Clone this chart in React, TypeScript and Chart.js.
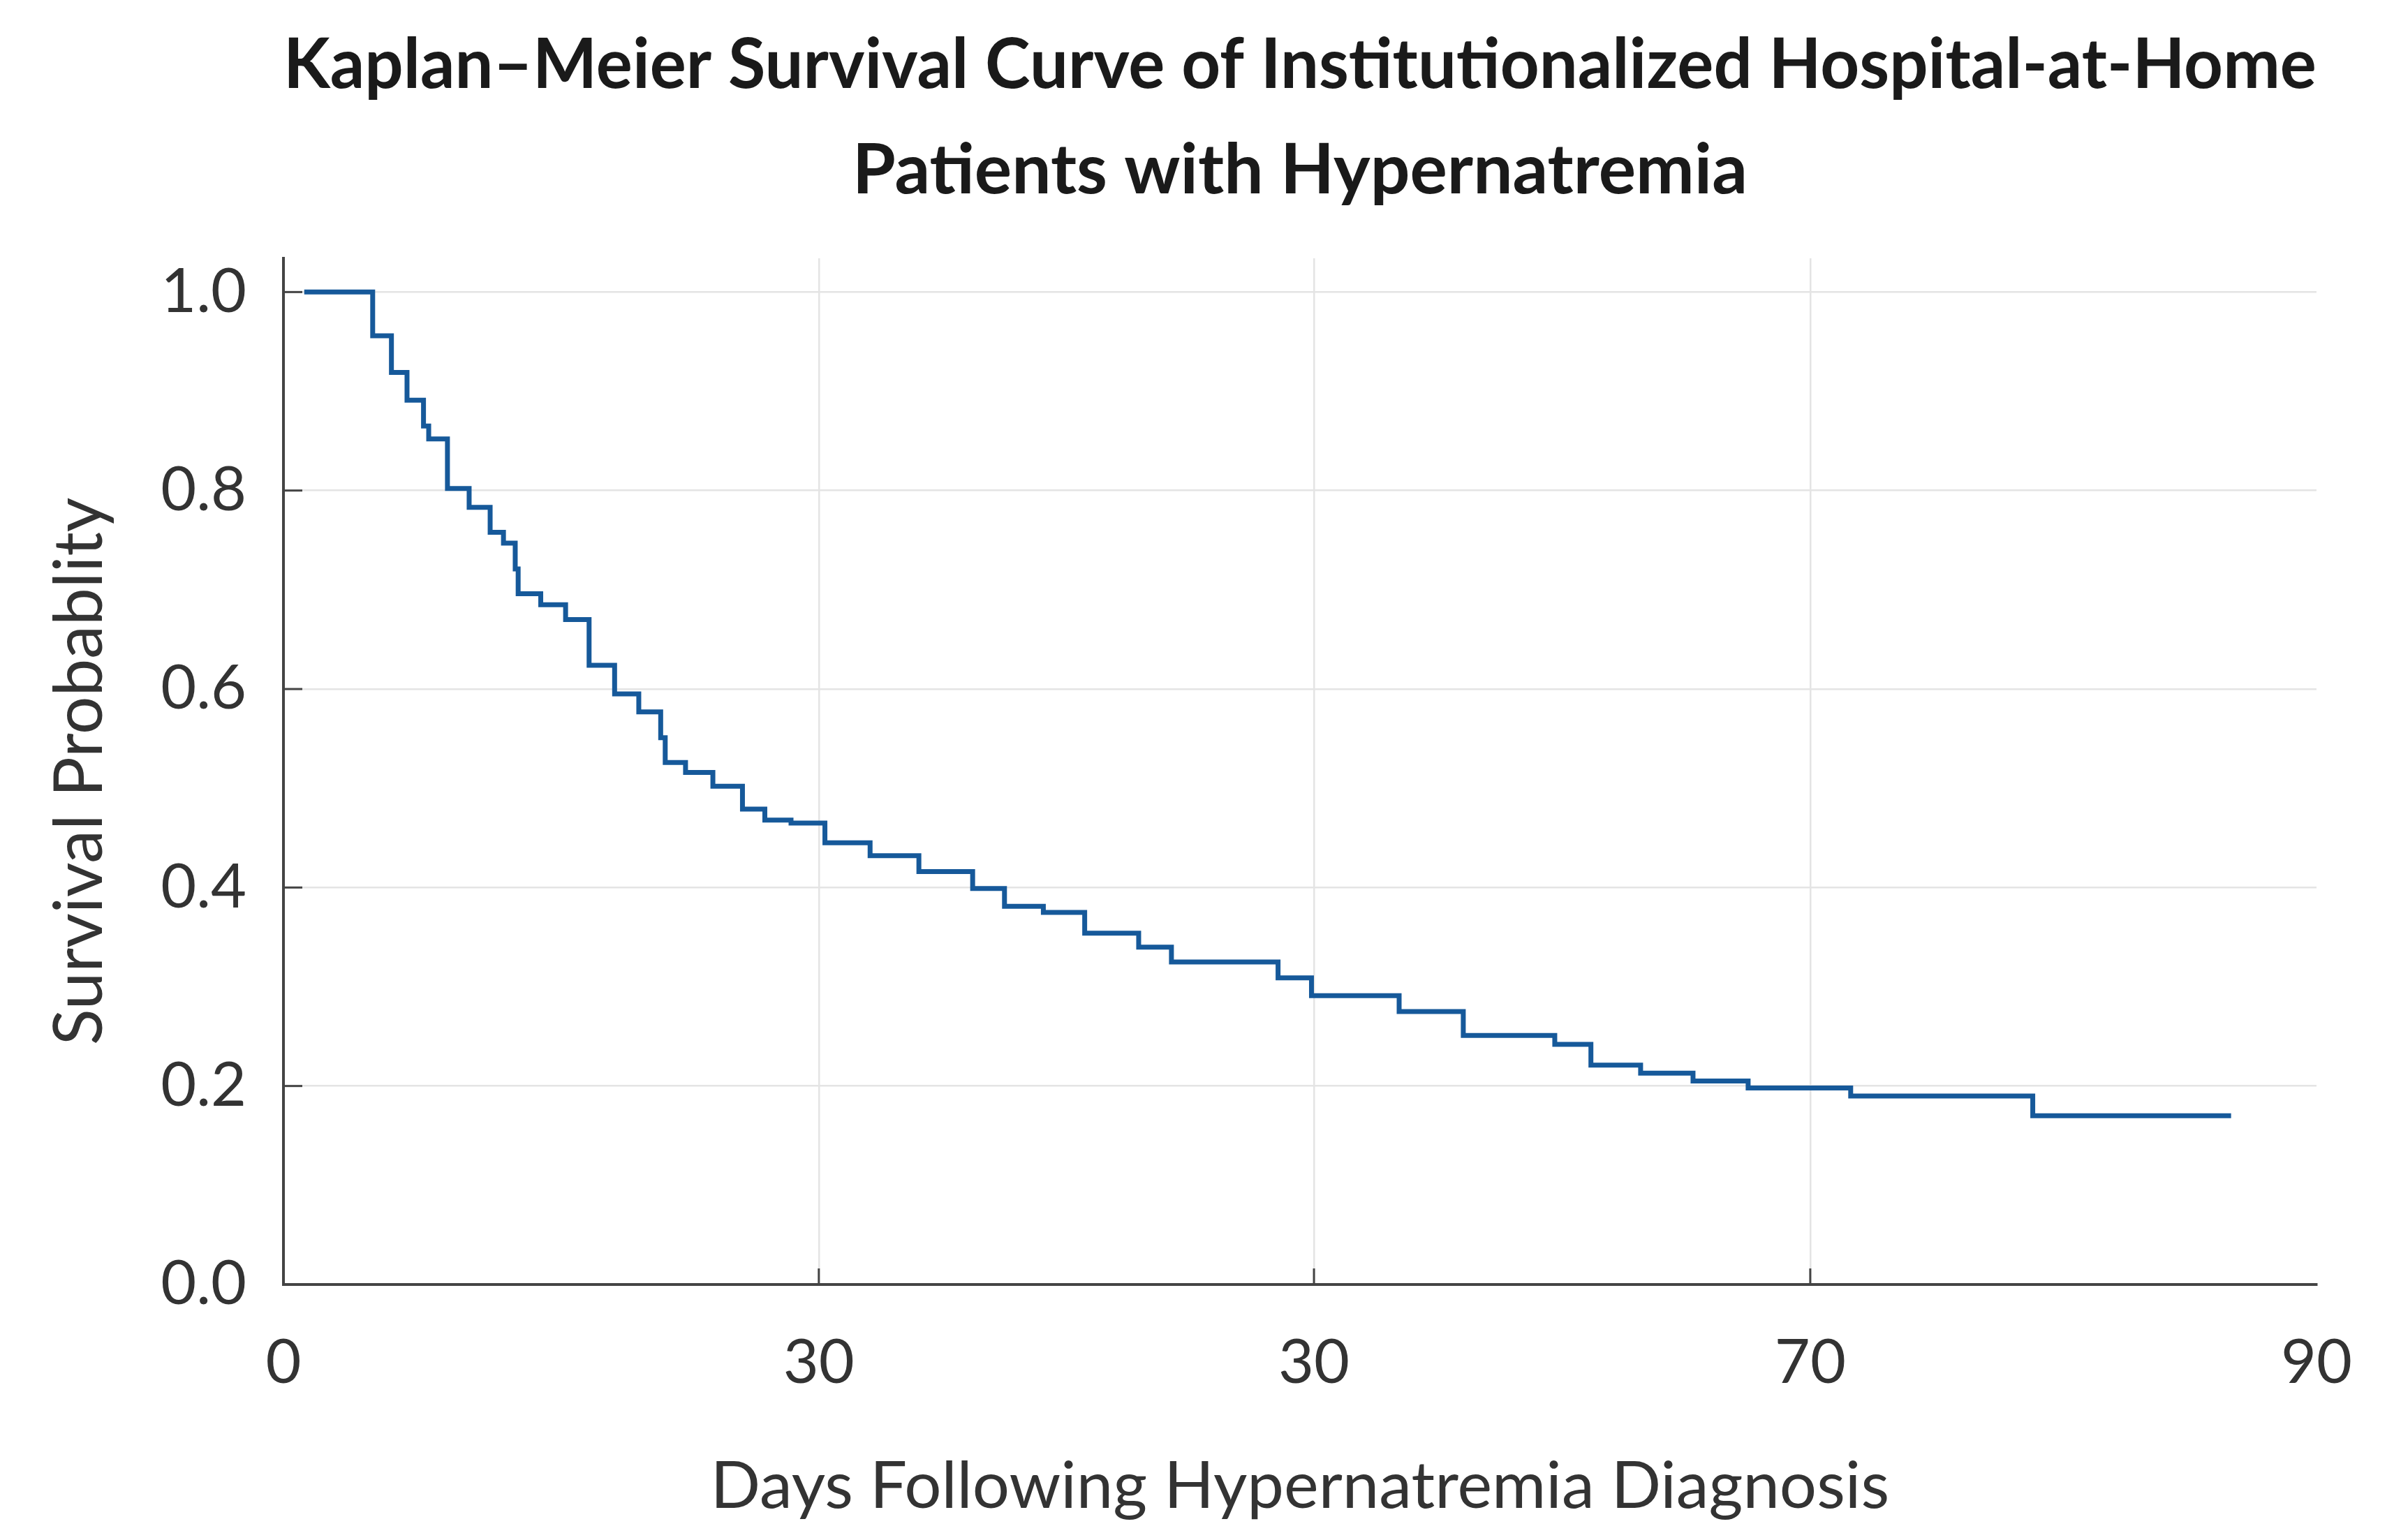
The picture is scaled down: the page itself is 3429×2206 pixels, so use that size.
import React, { useEffect, useRef } from 'react';
import { Chart, registerables } from 'chart.js';

Chart.register(...registerables);

const TITLE_LINES = [
  'Kaplan–Meier Survival Curve of Institutionalized Hospital-at-Home',
  'Patients with Hypernatremia',
];
const X_TITLE = 'Days Following Hypernatremia Diagnosis';
const Y_TITLE = 'Survival Probablity';

const X_TICK_VALUES = [0, 23.7, 45.62, 67.59, 90];
const X_TICK_LABELS = ['0', '30', '30', '70', '90'];
const Y_TICK_VALUES = [0, 0.2, 0.4, 0.6, 0.8, 1.0];
const Y_TICK_LABELS = ['0.0', '0.2', '0.4', '0.6', '0.8', '1.0'];

const DAYS = [
  0.92, 3.95, 4.78, 5.47, 6.2, 6.43, 7.26, 8.22, 9.15, 9.74, 10.26, 10.39,
  11.39, 12.49, 13.53, 14.66, 15.73, 16.7, 16.9, 17.8, 19.01, 20.32, 21.31,
  22.47, 23.97, 25.97, 28.13, 30.51, 31.92, 33.64, 35.47, 37.86, 39.31,
  44.03, 45.51, 49.39, 52.23, 56.28, 57.88, 60.08, 62.4, 64.84, 69.38,
  77.44, 86.22,
];
const SURVIVAL = [
  1.0, 0.956, 0.919, 0.891, 0.865, 0.852, 0.802, 0.783, 0.758, 0.747, 0.721,
  0.696, 0.685, 0.67, 0.624, 0.595, 0.577, 0.551, 0.526, 0.516, 0.502, 0.479,
  0.468, 0.465, 0.445, 0.432, 0.416, 0.399, 0.381, 0.375, 0.354, 0.34, 0.325,
  0.309, 0.291, 0.275, 0.251, 0.242, 0.221, 0.213, 0.205, 0.198, 0.19, 0.17,
  0.17,
];

const insideTicks = {
  id: 'insideTicks',
  beforeDatasetsDraw(chart: any) {
    const { ctx, scales } = chart;
    const x = scales.x;
    const y = scales.y;
    ctx.save();
    ctx.strokeStyle = '#444444';
    ctx.lineWidth = 3;
    Y_TICK_VALUES.forEach((v) => {
      if (v === 0) return;
      const py = y.getPixelForValue(v);
      ctx.beginPath();
      ctx.moveTo(x.left, py);
      ctx.lineTo(x.left + 27, py);
      ctx.stroke();
    });
    X_TICK_VALUES.forEach((v, i) => {
      if (i === 0 || i === X_TICK_VALUES.length - 1) return;
      const px = x.getPixelForValue(v);
      ctx.beginPath();
      ctx.moveTo(px, y.bottom);
      ctx.lineTo(px, y.bottom - 23);
      ctx.stroke();
    });
    ctx.restore();
  },
};

export default function App() {
  const canvasRef = useRef<HTMLCanvasElement | null>(null);

  useEffect(() => {
    document.body.style.margin = '0';
    const canvas = canvasRef.current;
    if (!canvas) return;
    const chart = new Chart(canvas, {
      type: 'line',
      data: {
        datasets: [
          {
            data: DAYS.map((d, i) => ({ x: d, y: SURVIVAL[i] })),
            stepped: 'before',
            borderColor: '#16599a',
            borderWidth: 7,
            pointRadius: 0,
            fill: false,
            borderJoinStyle: 'miter',
            borderCapStyle: 'butt',
          },
        ],
      },
      plugins: [insideTicks],
      options: {
        animation: false,
        responsive: true,
        maintainAspectRatio: false,
        layout: { padding: { left: 0, right: 107, top: 0, bottom: 0 } },
        plugins: {
          legend: { display: false },
          tooltip: { enabled: false },
          title: {
            display: true,
            text: TITLE_LINES,
            fullSize: false,
            color: '#1a1a1a',
            font: { family: 'Lato', size: 100, weight: 'bold', lineHeight: 1.51 },
            padding: { top: 18, bottom: 50 },
          },
        },
        scales: {
          x: {
            type: 'linear',
            min: 0,
            max: 90,
            afterBuildTicks: (s: any) => {
              s.ticks = X_TICK_VALUES.map((v) => ({ value: v }));
            },
            afterFit: (s: any) => {
              s.height = 366;
            },
            ticks: {
              callback: (_v: any, i: number) => X_TICK_LABELS[i],
              autoSkip: false,
              maxRotation: 0,
              padding: 60,
              color: '#333333',
              font: { family: 'Lato', size: 88 },
            },
            grid: {
              drawTicks: false,
              lineWidth: 2.5,
              color: (c: any) =>
                c.index === 0 || c.index === X_TICK_VALUES.length - 1 ? 'rgba(0,0,0,0)' : '#e4e4e4',
            },
            border: { display: true, color: '#444444', width: 4 },
            title: {
              display: true,
              text: X_TITLE,
              color: '#333333',
              font: { family: 'Lato', size: 94 },
              padding: { top: 0, bottom: 20 },
            },
          },
          y: {
            type: 'linear',
            min: 0,
            max: 1.034,
            afterBuildTicks: (s: any) => {
              s.ticks = Y_TICK_VALUES.map((v) => ({ value: v }));
            },
            afterFit: (s: any) => {
              s.width = 406;
            },
            ticks: {
              callback: (_v: any, i: number) => Y_TICK_LABELS[i],
              padding: 53,
              color: '#333333',
              font: { family: 'Lato', size: 88 },
            },
            grid: {
              drawTicks: false,
              lineWidth: 2.5,
              color: (c: any) => (c.index === 0 ? 'rgba(0,0,0,0)' : '#e4e4e4'),
            },
            border: { display: true, color: '#444444', width: 4 },
            title: {
              display: true,
              text: Y_TITLE,
              color: '#333333',
              font: { family: 'Lato', size: 96 },
              padding: { top: 57, bottom: 0 },
            },
          },
        },
      },
    } as any);
    return () => chart.destroy();
  }, []);

  return (
    <div style={{ width: '3429px', height: '2206px', position: 'relative', background: '#ffffff' }}>
      <canvas ref={canvasRef} />
    </div>
  );
}
